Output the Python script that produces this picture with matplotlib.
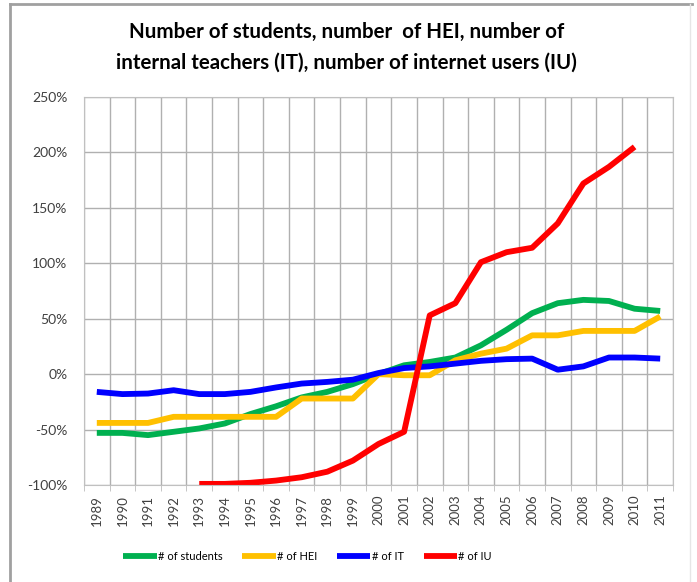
import matplotlib
matplotlib.use("Agg")
import matplotlib.pyplot as plt
from matplotlib.lines import Line2D
from matplotlib.ticker import FixedLocator, FuncFormatter

plt.rcParams["font.family"] = ["Lato", "DejaVu Sans"]

YEARS = list(range(1989, 2012))
STUDENTS = [-53, -53, -55, -52, -49, -44.5, -36, -29, -21, -16, -9, 0,
            8, 11, 15, 26, 40, 55, 64, 67, 66, 59, 57]
HEI = [-44, -44, -44, -38.5, -38.5, -38.5, -38.5, -38.5, -22, -22, -22, 0,
       -1, -1, 12.5, 18.5, 23, 35, 35, 39, 39, 39, 52]
IT = [-16, -18, -17.5, -14.5, -18, -18, -16, -12, -8.5, -7, -5, 1,
      5.5, 7, 9.5, 12, 13.5, 14, 4, 7, 15, 15, 14]
IU_YEARS = list(range(1993, 2011))
IU = [-99, -99, -98, -96, -93, -88, -78, -63, -52, 53, 64, 101, 110, 114,
      136, 172, 187, 205]

SERIES = [
    ("# of students", YEARS, STUDENTS, "#00B050"),
    ("# of HEI", YEARS, HEI, "#FFC000"),
    ("# of IT", YEARS, IT, "#0000FF"),
    ("# of IU", IU_YEARS, IU, "#FF0000"),
]

fig = plt.figure(figsize=(6.97, 5.82), dpi=100)
ax = fig.add_axes([84 / 697, 97 / 582, 589 / 697, 388 / 582])

for name, yrs, vals, col in SERIES:
    xs = [YEARS.index(y) for y in yrs]
    ax.plot(xs, vals, color=col, linewidth=4.2, label=name,
            solid_capstyle="butt", solid_joinstyle="round")

ax.set_xlim(-0.5, len(YEARS) - 0.5)
ax.set_ylim(-100, 250)
ax.set_xticks(range(len(YEARS)))
ax.set_xticklabels([str(y) for y in YEARS], rotation=90, fontsize=9.5, color="#404040")
ax.xaxis.set_minor_locator(FixedLocator([i - 0.5 for i in range(len(YEARS) + 1)]))
ax.set_yticks(range(-100, 251, 50))
ax.yaxis.set_major_formatter(FuncFormatter(lambda v, p: f"{int(v)}%"))
ax.tick_params(axis="y", labelsize=10, labelcolor="#404040", length=0, pad=12)
ax.tick_params(axis="x", which="major", length=0, pad=7)
ax.tick_params(axis="x", which="minor", length=4, color="#bbbbbb")
ax.grid(True, axis="y", color="#b0b0b0", linewidth=1)
ax.grid(True, axis="x", which="minor", color="#b0b0b0", linewidth=1)
ax.set_axisbelow(True)
for s in ax.spines.values():
    s.set_color("#c0c0c0")

fig.text(0.497, 1 - 47.5 / 582,
         "Number of students, number  of HEI, number of\ninternal teachers (IT), number of internet users (IU)",
         ha="center", va="center", fontsize=14.8, fontweight="bold", linespacing=1.65)

fig.legend(loc="center", bbox_to_anchor=(0.441, 1 - 556 / 582), ncol=4, frameon=False,
           fontsize=8, handlelength=3.0, handletextpad=0.1, columnspacing=1.8)

# outer frame
fig.add_artist(Line2D([10 / 697, 10 / 697], [0, 1 - 4 / 582], transform=fig.transFigure,
                      color="#a0a0a0", linewidth=2))
fig.add_artist(Line2D([10 / 697, 692 / 697], [1 - 4 / 582, 1 - 4 / 582], transform=fig.transFigure,
                      color="#a0a0a0", linewidth=2))
fig.add_artist(Line2D([690 / 697, 690 / 697], [0, 1 - 4 / 582], transform=fig.transFigure,
                      color="#e6e6e6", linewidth=1))

fig.savefig("out.png", dpi=100)
